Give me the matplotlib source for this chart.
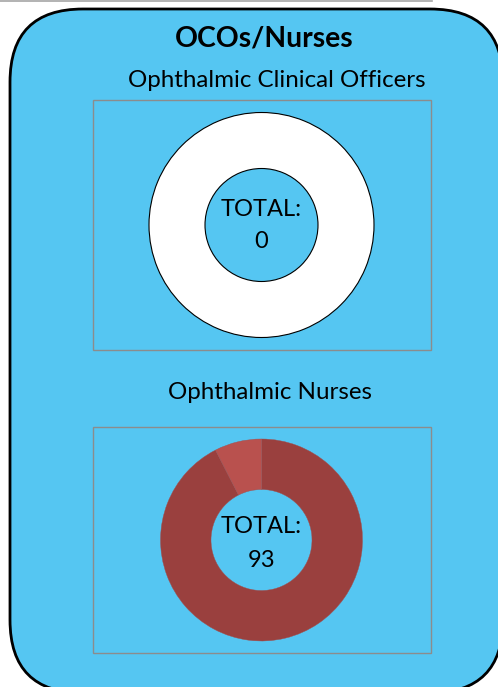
import matplotlib.pyplot as plt
from matplotlib.patches import FancyBboxPatch, Rectangle

# Data
title = 'OCOs/Nurses'
panel_titles = ['Ophthalmic Clinical Officers', 'Ophthalmic Nurses']
oco_values = [0]
nurse_values = [86, 7]
nurse_colors = ['#9A403E', '#B9514E']

W, H = 498, 687
BLUE = '#55C6F2'

plt.rcParams['font.family'] = ['Lato', 'DejaVu Sans']

fig = plt.figure(figsize=(W / 100, H / 100), dpi=100)
ax = fig.add_axes([0, 0, 1, 1])


def Y(y):
    # image pixel row -> data y
    return H - y


# thin grey line at the very top
ax.plot([0, 432], [Y(0.5), Y(0.5)], color='#A6A6A6', lw=1.2)

# rounded blue card
card = FancyBboxPatch((10, Y(693)), 493, 684,
                      boxstyle='round,pad=0,rounding_size=73',
                      facecolor=BLUE, edgecolor='black', lw=2)
ax.add_patch(card)

ax.text(264, Y(46), title, ha='center', va='baseline',
        fontsize=20.4, fontweight='bold')

# panel frames
ax.add_patch(Rectangle((93, Y(350)), 338, 250, fill=False,
                       edgecolor='#8C8C8C', lw=1))
ax.add_patch(Rectangle((93, Y(653)), 338, 226, fill=False,
                       edgecolor='#8C8C8C', lw=1))

ax.text(276.5, Y(87), panel_titles[0], ha='center', va='baseline', fontsize=17.4)
ax.text(269.5, Y(399), panel_titles[1], ha='center', va='baseline', fontsize=17.4)

# OCO donut (no data -> empty white ring)
if sum(oco_values) == 0:
    ax.pie([1], colors=['white'], center=(261.5, Y(225)), radius=112.5,
           startangle=90, counterclock=False, frame=True,
           wedgeprops=dict(width=56, edgecolor='black', linewidth=0.8))
else:
    ax.pie(oco_values, center=(261.5, Y(225)), radius=112.5,
           startangle=90, counterclock=False, frame=True,
           wedgeprops=dict(width=56))
ax.text(261.5, Y(216), 'TOTAL:', ha='center', va='baseline', fontsize=17)
ax.text(261.5, Y(248), str(sum(oco_values)), ha='center', va='baseline', fontsize=17)

# Nurses donut
ax.pie(nurse_values, colors=nurse_colors, center=(261.5, Y(540)), radius=101,
       startangle=90, counterclock=False, frame=True,
       wedgeprops=dict(width=50.5, edgecolor='#A05050', linewidth=0.3))
ax.text(261.5, Y(533), 'TOTAL:', ha='center', va='baseline', fontsize=17)
ax.text(261.5, Y(567), str(sum(nurse_values)), ha='center', va='baseline', fontsize=17)

ax.set_xlim(0, W)
ax.set_ylim(0, H)
ax.set_aspect('auto')
ax.axis('off')

fig.savefig('out.png', dpi=100, facecolor='white')
